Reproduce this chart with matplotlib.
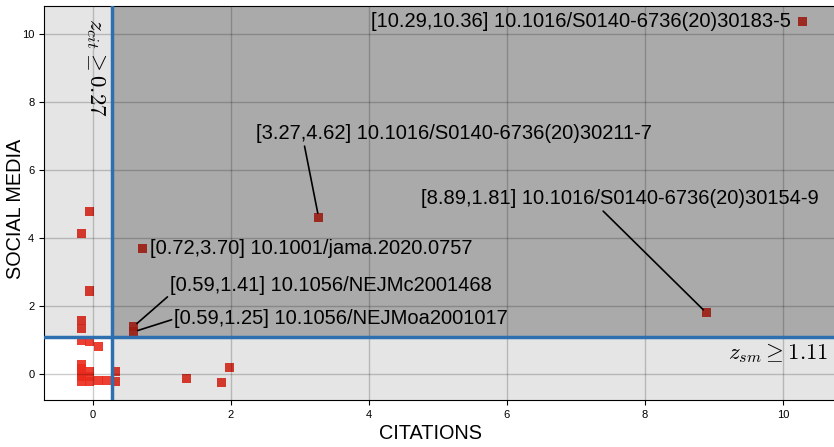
import matplotlib
matplotlib.use("Agg")
import matplotlib.pyplot as plt
from matplotlib.patches import Rectangle

plt.rcParams["font.family"] = ["Liberation Sans", "DejaVu Sans"]
plt.rcParams["mathtext.fontset"] = "cm"

# ---------------------------------------------------------------
# data: z-scores (citations, social media) per paper
# ---------------------------------------------------------------
top_cit = [10.29, 3.27, 8.89, 0.72, 0.59, 0.59]
top_sm = [10.36, 4.62, 1.81, 3.70, 1.41, 1.25]
top_doi = ["10.1016/S0140-6736(20)30183-5",
           "10.1016/S0140-6736(20)30211-7",
           "10.1016/S0140-6736(20)30154-9",
           "10.1001/jama.2020.0757",
           "10.1056/NEJMc2001468",
           "10.1056/NEJMoa2001017"]

other_cit = [-0.05, -0.17, -0.05, -0.17, -0.17, -0.17, -0.05, 0.08,
             -0.17, -0.17, -0.17, -0.17, -0.17,
             -0.05, -0.05, -0.05,
             0.08, 0.19, 0.33, 0.33,
             1.35, 1.86, 1.98]
other_sm = [4.80, 4.13, 2.45, 1.58, 1.35, 0.99, 0.96, 0.83,
            0.30, 0.18, 0.05, -0.07, -0.22,
            0.08, -0.07, -0.22,
            -0.19, -0.19, 0.08, -0.22,
            -0.12, -0.24, 0.21]

cit_thr = 0.27
sm_thr = 1.11

# label placement (text position, where the leader line leaves the text)
label_pos = [(10.12, 10.36), (2.37, 7.07), (4.76, 5.16), (0.83, 3.71), (1.12, 2.60), (1.18, 1.63)]
label_ha = ["right", "left", "left", "left", "left", "left"]
label_rel = [None, (0.12, 0.0), (0.45, 0.0), None, (0.0, 0.05), (0.0, 0.5)]

# ---------------------------------------------------------------
# plot
# ---------------------------------------------------------------
fig = plt.figure(figsize=(8.34, 4.47), dpi=100)
ax = fig.add_axes([44 / 834, 47 / 447, 792 / 834, 394 / 447])
xmin, xmax = -0.71, 10.77
ymin, ymax = -0.755, 10.83
ax.set_xlim(xmin, xmax)
ax.set_ylim(ymin, ymax)

all_cit = top_cit + other_cit
all_sm = top_sm + other_sm
ax.scatter(all_cit, all_sm, marker="s", s=42, color="#ea2a1c", alpha=0.9,
           edgecolors="none", zorder=2)

# quadrant shading
ax.add_patch(Rectangle((cit_thr, ymin), xmax - cit_thr, sm_thr - ymin,
                       color="black", alpha=0.1, lw=0, zorder=2.2))
ax.add_patch(Rectangle((xmin, sm_thr), cit_thr - xmin, ymax - sm_thr,
                       color="black", alpha=0.1, lw=0, zorder=2.2))
ax.add_patch(Rectangle((cit_thr, sm_thr), xmax - cit_thr, ymax - sm_thr,
                       color="black", alpha=0.335, lw=0, zorder=2.2))

ax.set_axisbelow(False)
ax.grid(True, color="black", alpha=0.2, lw=1)

ax.axvline(cit_thr, color="#2e6fb0", lw=2.5, zorder=4)
ax.axhline(sm_thr, color="#2e6fb0", lw=2.5, zorder=4)

for i in range(len(top_doi)):
    txt = f"[{top_cit[i]:.2f},{top_sm[i]:.2f}] {top_doi[i]}"
    if label_rel[i] is None:
        ax.text(label_pos[i][0], label_pos[i][1], txt, ha=label_ha[i], va="center",
                fontsize=14.5, zorder=5)
    else:
        ax.annotate(txt, xy=(top_cit[i], top_sm[i]), xytext=label_pos[i],
                    ha=label_ha[i], va="center", fontsize=14.5, zorder=5,
                    arrowprops=dict(arrowstyle="-", color="black", lw=1.2,
                                    relpos=label_rel[i], shrinkA=0, shrinkB=3))

ax.text(0.05, 10.48, r"$z_{cit} \geq %.2f$" % cit_thr, rotation=-90,
        ha="center", va="top", fontsize=16.5, zorder=5)
ax.text(10.66, 0.63, r"$z_{sm} \geq %.2f$" % sm_thr, ha="right", va="center",
        fontsize=16.5, zorder=5)

ax.set_xlabel("CITATIONS", fontsize=14.3)
ax.set_ylabel("SOCIAL MEDIA", fontsize=14.3)
ax.xaxis.set_label_coords(0.4886, -0.062)
ax.yaxis.set_label_coords(-0.0235, 0.485)
ax.tick_params(labelsize=8)
ax.spines["right"].set_visible(False)

fig.savefig("out.png", dpi=100)
